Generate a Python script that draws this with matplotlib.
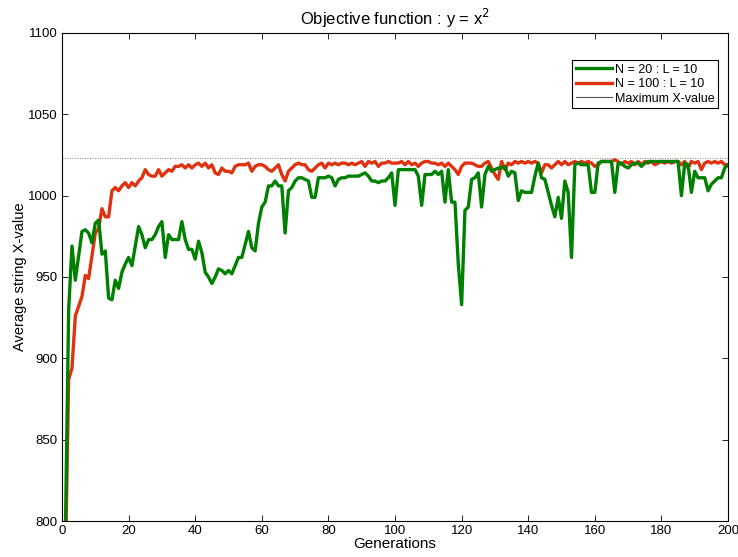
import matplotlib
matplotlib.use("Agg")
import matplotlib.pyplot as plt
from matplotlib.lines import Line2D
import numpy as np

# generations 1..200
generations = np.arange(1, 201)

# average string X-value, N = 20 : L = 10
avg_n20 = [
    790, 930, 969, 948, 963, 978, 979, 977, 971, 983,
    985, 964, 966, 937, 936, 948, 943, 953, 958, 962,
    957, 969, 981, 976, 968, 973, 973, 976, 981, 984,
    962, 976, 973, 973, 973, 984, 973, 967, 967, 961,
    972, 965, 953, 950, 946, 950, 955, 954, 952, 954,
    952, 957, 962, 962, 970, 978, 968, 966, 983, 993,
    996, 1006, 1006, 1009, 1006, 1006, 977, 1003, 1005, 1009,
    1011, 1011, 1010, 1009, 999, 999, 1011, 1011, 1011, 1012,
    1011, 1006, 1010, 1011, 1011, 1012, 1012, 1012, 1012, 1013,
    1014, 1012, 1009, 1009, 1008, 1009, 1009, 1011, 1014, 994,
    1016, 1016, 1016, 1016, 1016, 1016, 1012, 994, 1013, 1013,
    1013, 1015, 1013, 1015, 996, 1016, 996, 996, 958, 933,
    991, 993, 1010, 1011, 1014, 993, 1013, 1018, 1015, 1016,
    1017, 1017, 1018, 1012, 1015, 1014, 997, 1003, 1002, 1002,
    1002, 1012, 1020, 1011, 1010, 1002, 994, 987, 999, 986,
    1009, 1002, 962, 1019, 1020, 1019, 1019, 1019, 1002, 1002,
    1020, 1021, 1021, 1021, 1021, 1002, 1020, 1020, 1018, 1017,
    1019, 1020, 1020, 1018, 1020, 1021, 1021, 1021, 1021, 1021,
    1021, 1021, 1021, 1021, 1021, 1000, 1020, 1019, 1002, 1015,
    1011, 1011, 1011, 1003, 1007, 1009, 1011, 1011, 1017, 1019,
]

# average string X-value, N = 100 : L = 10
avg_n100 = [
    770, 887, 894, 926, 932, 938, 951, 949, 963, 977,
    980, 992, 987, 987, 1003, 1005, 1003, 1006, 1008, 1005,
    1008, 1006, 1009, 1011, 1016, 1013, 1012, 1012, 1016, 1012,
    1014, 1016, 1015, 1018, 1018, 1019, 1017, 1019, 1017, 1019,
    1020, 1018, 1020, 1017, 1019, 1014, 1013, 1017, 1015, 1015,
    1014, 1018, 1019, 1019, 1019, 1020, 1015, 1018, 1019, 1019,
    1018, 1016, 1015, 1017, 1019, 1013, 1009, 1015, 1017, 1019,
    1020, 1019, 1019, 1016, 1015, 1017, 1019, 1020, 1017, 1020,
    1019, 1020, 1019, 1020, 1020, 1019, 1020, 1019, 1020, 1021,
    1018, 1021, 1020, 1021, 1018, 1020, 1020, 1021, 1020, 1020,
    1020, 1021, 1019, 1021, 1019, 1020, 1018, 1020, 1021, 1021,
    1020, 1020, 1019, 1020, 1018, 1020, 1018, 1016, 1013, 1018,
    1020, 1020, 1020, 1019, 1018, 1018, 1020, 1021, 1017, 1013,
    1010, 1021, 1016, 1020, 1019, 1021, 1020, 1021, 1020, 1021,
    1020, 1021, 1020, 1014, 1019, 1019, 1017, 1019, 1021, 1019,
    1021, 1019, 1020, 1021, 1020, 1021, 1020, 1021, 1020, 1018,
    1019, 1021, 1021, 1021, 1021, 1022, 1021, 1019, 1021, 1020,
    1021, 1019, 1021, 1019, 1021, 1020, 1021, 1019, 1020, 1021,
    1020, 1021, 1020, 1021, 1021, 1019, 1021, 1017, 1021, 1020,
    1021, 1016, 1020, 1021, 1020, 1021, 1020, 1021, 1019, 1019,
]

max_x_value = 2 ** 10 - 1  # 1023

assert len(avg_n20) == len(avg_n100) == len(generations)

plt.rcParams["font.family"] = ["Liberation Sans", "DejaVu Sans"]

fig = plt.figure(figsize=(7.38, 5.57), dpi=100)
ax = fig.add_axes([0.084, 0.0646, 0.9025, 0.8762])

GREEN, RED = "#008000", "#de3210"
ax.plot(generations, avg_n20, color=GREEN, lw=2.4, zorder=3)
ax.plot(generations, avg_n100, color=RED, lw=2.4, zorder=2)
ax.axhline(max_x_value, color="#555555", lw=0.6, ls=(0, (1, 2)), zorder=1)

ax.set_xlim(0, 200)
ax.set_ylim(800, 1100)
ax.set_xticks(np.arange(0, 201, 20))
ax.set_yticks(np.arange(800, 1101, 50))
ax.tick_params(direction="in", top=True, right=True, labelsize=9.5,
               length=4, width=0.6, pad=3)
for s in ax.spines.values():
    s.set_linewidth(0.8)

ax.set_title("Objective function : y = x$^2$", fontsize=12, pad=6)
ax.set_xlabel("Generations", fontsize=11, labelpad=0)
ax.set_ylabel("Average string X-value", fontsize=10.5, labelpad=1)

handles = [Line2D([], [], color=GREEN, lw=2.4),
           Line2D([], [], color=RED, lw=2.4),
           Line2D([], [], color="#555555", lw=0.8)]
leg = ax.legend(handles, ["N = 20 : L = 10", "N = 100 : L = 10", "Maximum X-value"],
                loc="upper right", bbox_to_anchor=(0.985, 0.945), borderaxespad=0,
                fontsize=9, fancybox=False, framealpha=1, handlelength=2.9,
                handletextpad=0.2, labelspacing=0.2, borderpad=0.3)
leg.get_frame().set_edgecolor("black")
leg.get_frame().set_linewidth(0.8)

fig.savefig("out.png", dpi=100)
